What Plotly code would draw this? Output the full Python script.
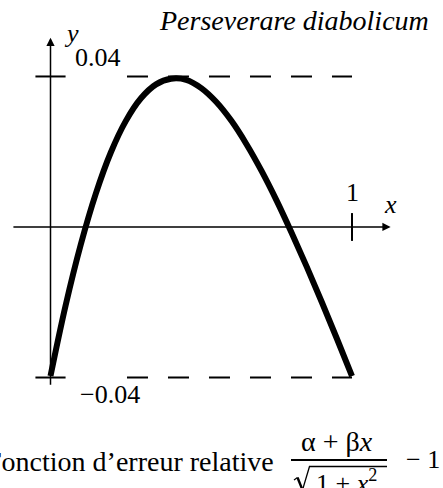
import plotly.graph_objects as go

# Relative error of the best linear approximation alpha + beta*x of sqrt(1+x^2) on [0, 1]
x_vals = [0.00, 0.05, 0.10, 0.15, 0.20, 0.25, 0.30, 0.35, 0.40, 0.45, 0.50,
          0.55, 0.60, 0.65, 0.70, 0.75, 0.80, 0.85, 0.90, 0.95, 1.00]
err_vals = [-0.0396, -0.0209, -0.0048, 0.0088, 0.0198, 0.0282, 0.0342, 0.0379,
            0.0394, 0.0391, 0.0369, 0.0332, 0.0282, 0.0220, 0.0149, 0.0070,
            -0.0016, -0.0106, -0.0200, -0.0297, -0.0396]

bound = 0.04                 # equioscillation level
y_tick_labels = ["0.04", "\u22120.04"]
x_tick_label = "1"

W, H = 443, 488
X_RANGE = [-0.1675, 1.3018]
Y_RANGE = [-0.06936, 0.06032]

SERIF = "Liberation Serif"


def px(u):
    return u / W


def py(v):
    return 1 - v / H


def paper_path(points):
    """SVG path in paper coordinates from a list of pixel points."""
    return "M" + " L".join(f"{px(a):.5f},{py(b):.5f}" for a, b in points)


fig = go.Figure()

# error curve
fig.add_trace(go.Scatter(
    x=x_vals, y=err_vals, mode="lines",
    line=dict(color="black", width=6, shape="spline", smoothing=1.0),
    hoverinfo="skip",
))

shapes = []
# tick marks
shapes.append(dict(type="line", xref="x", yref="y", x0=1, x1=1,
                   y0=-0.0037, y1=0.0037, line=dict(color="black", width=2)))
for lvl in (bound, -bound):
    shapes.append(dict(type="line", xref="x", yref="y", x0=-0.05, x1=0.05,
                       y0=lvl, y1=lvl, line=dict(color="black", width=2)))
    # dashed bound lines
    shapes.append(dict(type="line", xref="x", yref="y", x0=0.2537, x1=1.0,
                       y0=lvl, y1=lvl,
                       line=dict(color="black", width=2, dash="21px,20px")))

# fraction bar
shapes.append(dict(type="line", xref="paper", yref="paper",
                   x0=px(291), x1=px(387), y0=py(460), y1=py(460),
                   line=dict(color="black", width=2)))
# radical sign over the denominator
shapes.append(dict(type="path", xref="paper", yref="paper",
                   path=paper_path([(294, 480), (297.5, 477.5)]),
                   line=dict(color="black", width=1.2)))
shapes.append(dict(type="path", xref="paper", yref="paper",
                   path=paper_path([(297.5, 477.5), (302.5, 490)]),
                   line=dict(color="black", width=2.4)))
shapes.append(dict(type="path", xref="paper", yref="paper",
                   path=paper_path([(302.5, 490), (309.5, 466.5), (387, 466.5)]),
                   line=dict(color="black", width=1.3)))

annotations = []
# axes with arrow heads
annotations.append(dict(x=1.128, y=0, ax=-0.128, ay=0, xref="x", yref="y",
                        axref="x", ayref="y", text="", showarrow=True,
                        arrowhead=2, arrowsize=1.1, arrowwidth=1.5,
                        arrowcolor="black"))
annotations.append(dict(x=0, y=0.0503, ax=0, ay=-0.0423, xref="x", yref="y",
                        axref="x", ayref="y", text="", showarrow=True,
                        arrowhead=2, arrowsize=1.1, arrowwidth=1.5,
                        arrowcolor="black"))


def label(text, x, y, size=26, italic=False, xanchor="center", yanchor="middle"):
    annotations.append(dict(
        text=text, x=px(x), y=py(y), xref="paper", yref="paper",
        xanchor=xanchor, yanchor=yanchor, showarrow=False,
        font=dict(family=SERIF, size=size, color="black",
                  style="italic" if italic else "normal"),
    ))


label("y", 71, 33, italic=True)
label("x", 390, 204, italic=True)
label(y_tick_labels[0], 98, 58)
label(y_tick_labels[1], 110, 394)
label(x_tick_label, 352, 192)
label("Perseverare diabolicum", 294, 20, size=28, italic=True)

label("Fonction d\u2019erreur relative", 276, 461, size=28, xanchor="right")
label("\u03b1 + \u03b2<i>x</i>", 337, 441, size=28)
label("1 + <i>x</i><sup>2</sup>", 346, 481)
label("\u2212 1", 423, 459)

fig.update_layout(
    width=W, height=H,
    margin=dict(l=0, r=0, t=0, b=0, autoexpand=False),
    paper_bgcolor="white", plot_bgcolor="white",
    showlegend=False,
    xaxis=dict(range=X_RANGE, visible=False, fixedrange=True),
    yaxis=dict(range=Y_RANGE, visible=False, fixedrange=True),
    shapes=shapes, annotations=annotations,
)

fig.write_html("out.html", config={"displayModeBar": False})
